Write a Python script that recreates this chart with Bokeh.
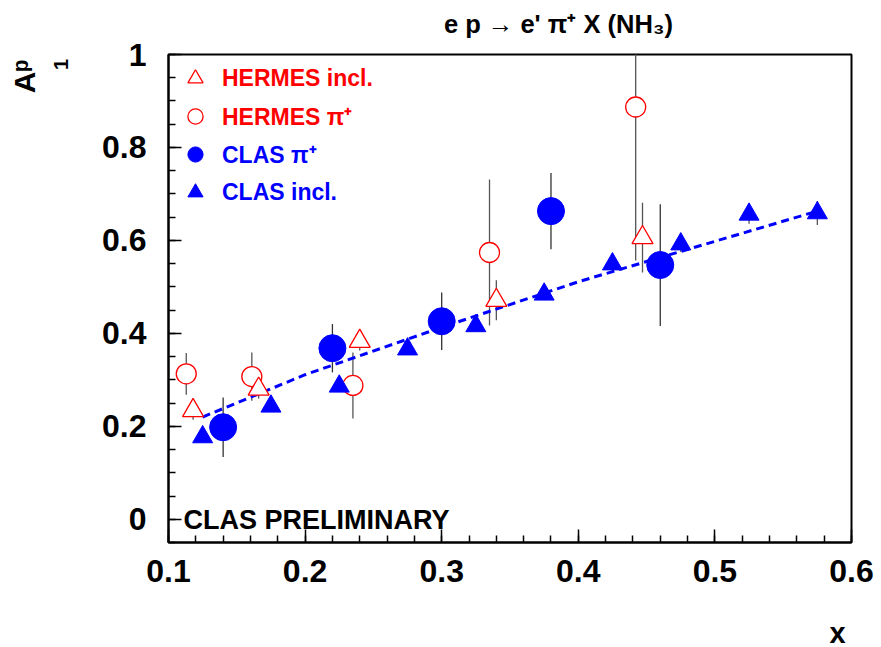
import math
from bokeh.plotting import figure
from bokeh.models import (Range1d, FixedTicker, CustomJSTickFormatter, Label,
                          Legend, LegendItem)
from bokeh.embed import file_html
from bokeh.resources import INLINE

# ---------------- data ----------------
# HERMES inclusive A1p
hi_x = [0.118, 0.166, 0.240, 0.340, 0.447]
hi_y = [0.234, 0.280, 0.383, 0.471, 0.606]
hi_err = [0.020, 0.020, 0.020, 0.043, 0.075]

# HERMES pi+ A1p
hp_x = [0.113, 0.161, 0.235, 0.335, 0.442]
hp_y = [0.313, 0.307, 0.288, 0.574, 0.887]
hp_err = [0.045, 0.052, 0.071, 0.157, 0.330]

# CLAS pi+ A1p
cp_x = [0.140, 0.220, 0.300, 0.380, 0.460]
cp_y = [0.198, 0.368, 0.426, 0.663, 0.547]
cp_err = [0.064, 0.052, 0.062, 0.082, 0.131]

# CLAS inclusive A1p
ci_x = [0.125, 0.175, 0.225, 0.275, 0.325, 0.375, 0.425, 0.475, 0.525, 0.575]
ci_y = [0.177, 0.243, 0.286, 0.366, 0.416, 0.484, 0.549, 0.592, 0.656, 0.659]
ci_err = [0.010, 0.010, 0.010, 0.012, 0.012, 0.013, 0.015, 0.017, 0.020, 0.026]

# dashed fit curve through CLAS inclusive
fit_x = [0.125, 0.200, 0.300, 0.400, 0.500, 0.575]
fit_y = [0.220, 0.311, 0.413, 0.511, 0.598, 0.663]

x_ticks = [0.1, 0.2, 0.3, 0.4, 0.5, 0.6]
x_minor = [0.1 + 0.02 * i for i in range(26)]
y_ticks = [0.0, 0.2, 0.4, 0.6, 0.8, 1.0]
y_minor = [round(-0.05 + 0.05 * i, 2) for i in range(22)]

RED = "#ff0000"
BLUE = "#0000ff"
FONT = "Liberation Sans"

# ---------------- figure ----------------
p = figure(width=881, height=647, output_backend="svg", toolbar_location=None,
           x_range=Range1d(0.1, 0.6), y_range=Range1d(-0.05, 1.0),
           min_border_left=168, min_border_right=30, min_border_top=54,
           min_border_bottom=105, title=None)
p.xgrid.visible = False
p.ygrid.visible = False
p.outline_line_color = "black"
p.outline_line_width = 2
p.background_fill_color = "white"
p.border_fill_color = "white"

fmt = CustomJSTickFormatter(code="return tick.toFixed(1).replace(/\\.0$/, '');")
for ax, ticks, minor in ((p.xaxis[0], x_ticks, x_minor), (p.yaxis[0], y_ticks, y_minor)):
    ax.ticker = FixedTicker(ticks=ticks, minor_ticks=minor)
    ax.formatter = fmt
    ax.axis_line_width = 2
    ax.major_tick_in = 13
    ax.major_tick_out = 0
    ax.minor_tick_in = 7
    ax.minor_tick_out = 0
    ax.major_tick_line_width = 1.5
    ax.minor_tick_line_width = 1.5
    ax.major_label_text_font = FONT
    ax.major_label_text_font_style = "bold"
    ax.major_label_text_font_size = "32px"
    ax.major_label_text_color = "black"
p.xaxis.major_label_standoff = 17
p.yaxis.major_label_standoff = 22

# error bars
def errbars(xs, ys, es, color):
    p.segment(x0=xs, x1=xs, y0=[y - e for y, e in zip(ys, es)],
              y1=[y + e for y, e in zip(ys, es)], line_color=color, line_width=1.3)

errbars(hp_x, hp_y, hp_err, "#555555")
errbars(hi_x, hi_y, hi_err, "#555555")
errbars(cp_x, cp_y, cp_err, "#333333")
errbars(ci_x, ci_y, ci_err, "#555555")

# fit line
p.line(fit_x, fit_y, line_color=BLUE, line_width=3, line_dash="8 5")

r_hp = p.scatter(hp_x, hp_y, marker="circle", size=20, fill_color="white",
                 line_color=RED, line_width=1.3)
r_hi = p.scatter(hi_x, hi_y, marker="triangle", size=21, fill_color="white",
                 line_color=RED, line_width=1.3)
r_ci = p.scatter(ci_x, ci_y, marker="triangle", size=20, fill_color=BLUE,
                 line_color=BLUE, line_width=1)
r_cp = p.scatter(cp_x, cp_y, marker="circle", size=27, fill_color=BLUE,
                 line_color=BLUE, line_width=1)

def make_legend(items, color, loc):
    leg = Legend(items=items, location=loc, padding=0, margin=0, spacing=0,
                 glyph_width=38, glyph_height=38, label_standoff=8,
                 label_height=38, border_line_color=None,
                 background_fill_alpha=0, label_text_font=FONT,
                 label_text_font_style="bold", label_text_font_size="23px",
                 label_text_color=color)
    p.add_layout(leg)

make_legend([LegendItem(label="HERMES incl.", renderers=[r_hi]),
             LegendItem(label="HERMES π⁺", renderers=[r_hp])], RED, (8, 407))
make_legend([LegendItem(label="CLAS π⁺", renderers=[r_cp]),
             LegendItem(label="CLAS incl.", renderers=[r_ci])], BLUE, (8, 331))

def lab(text, x, y, size, side="center", angle=0.0, align="center", baseline="middle"):
    p.add_layout(Label(x=x, y=y, x_units="screen", y_units="screen", text=text,
                       angle=angle, text_align=align, text_baseline=baseline,
                       text_font=FONT, text_font_style="bold",
                       text_font_size=size, text_color="black"), side)

# title (above panel: x from frame left, y upward from frame top)
lab("e p → e' π⁺ X (NH₃)", 390, 31, "25.5px", side="above")
# y-axis label A_1^p (rotated), in left panels stacked outside the y axis
lab("1", -24.5, 478, "20px", side="left", angle=math.pi / 2)
lab("Aᵖ", -28.5, 466, "30px", side="left", angle=math.pi / 2)
# x-axis label (below panel, stacked under the x axis)
lab("x", 669, -16, "29px", side="below")
# preliminary stamp
lab("CLAS PRELIMINARY", 15, 23, "27px", align="left", baseline="alphabetic")

open("out.html", "w").write(file_html(p, INLINE))
